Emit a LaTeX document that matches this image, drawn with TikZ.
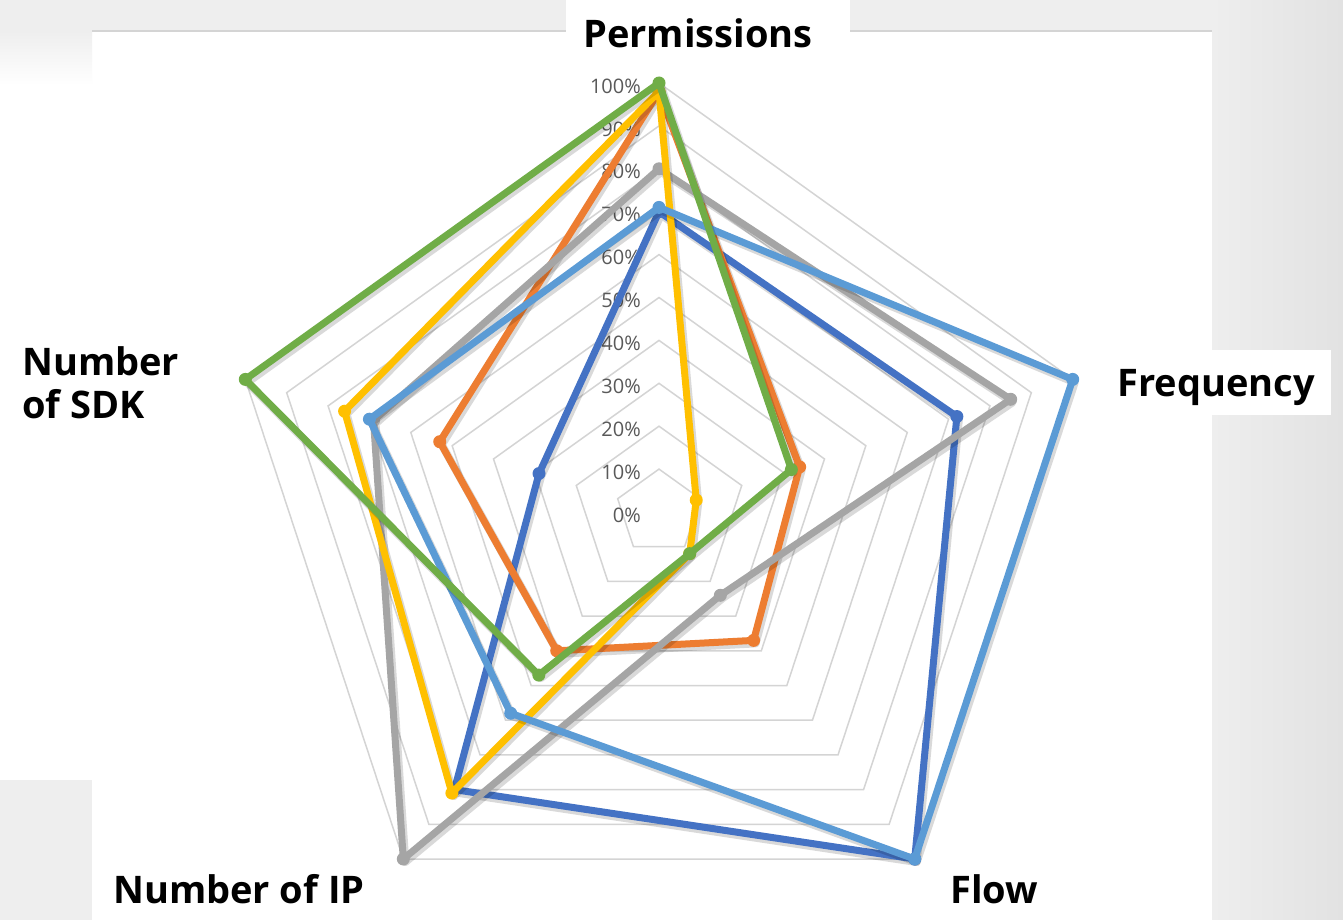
\documentclass[tikz,border=0pt]{standalone}
\usepackage{fontspec}
\setmainfont{Open Sans}
\usetikzlibrary{calc}

\definecolor{sBlue}{HTML}{4472C4}
\definecolor{sOrange}{HTML}{ED7D31}
\definecolor{sGray}{HTML}{A5A5A5}
\definecolor{sYellow}{HTML}{FFC000}
\definecolor{sLight}{HTML}{5B9BD5}
\definecolor{sGreen}{HTML}{70AD47}
\definecolor{bgGray}{HTML}{EEEEEE}
\definecolor{bgDark}{HTML}{E2E2E2}
\definecolor{ringGray}{HTML}{D4D4D4}
\definecolor{pctGray}{HTML}{595959}

\tikzset{
  ring/.style={draw=ringGray, line width=1.5pt, line join=miter},
  frameline/.style={draw=ringGray, line width=2pt},
  pct/.style={font=\fontsize{20}{23}\selectfont, text=pctGray, inner sep=0pt, anchor=east},
  axtitle/.style={font=\fontsize{38}{43}\selectfont\bfseries, text=black, inner sep=0pt},
  serie/.style={line width=7pt, line join=round, line cap=round},
  serieshadow/.style={line width=8pt, line join=round, draw=black, draw opacity=0.15},
}

\begin{document}
\begin{tikzpicture}[x=1pt, y=-1pt]
\useasboundingbox (0,0) rectangle (1343,920);

% page background and white chart area
\fill[bgGray] (0,0) rectangle (1343,920);
\shade[left color=bgGray, right color=bgDark] (1212,0) rectangle (1343,920);
\fill[white] (92,31) rectangle (1212,920);
\fill[white] (0,85) rectangle (92,780);
\shade[top color=bgGray, bottom color=white] (0,31) rectangle (92,85);
\fill[white] (566,0) rectangle (850,31);
\fill[white] (1212,350) rectangle (1331,415);
\draw[frameline] (92,31) -- (566,31);
\draw[frameline] (850,31) -- (1212,31);

% centre and the 100% end of each axis
\coordinate (C) at (659,512);
\coordinate (A1) at (659,83);
\coordinate (A2) at (1072.7,379.4);
\coordinate (A3) at (914.7,859);
\coordinate (A4) at (403.3,859);
\coordinate (A5) at (245.3,379.4);

% grid rings, 10% to 100%
\foreach \i in {1,...,10}{
  \pgfmathsetmacro\f{\i/10}
  \draw[ring] ($(C)!\f!(A1)$) -- ($(C)!\f!(A2)$) -- ($(C)!\f!(A3)$)
    -- ($(C)!\f!(A4)$) -- ($(C)!\f!(A5)$) -- cycle;
}

% scale labels along the top axis
\foreach \i/\t in {0/0,1/10,2/20,3/30,4/40,5/50,6/60,7/70,8/80,9/90,10/100}{
  \pgfmathsetmacro\f{\i/10}
  \node[pct] (pct\i) at ($(C)!\f!(A1)+(-18,3)$) {\t\%};
}

% data series: Permissions, Frequency, Flow, Number of IP, Number of SDK
\foreach \n/\col/\a/\b/\c/\d/\e in {
  1/sBlue/0.70/0.72/1.00/0.80/0.29,
  2/sOrange/0.98/0.34/0.37/0.40/0.53,
  3/sGray/0.80/0.85/0.24/1.00/0.69,
  4/sYellow/0.98/0.09/0.12/0.81/0.76,
  5/sLight/0.71/1.00/1.00/0.58/0.70,
  6/sGreen/1.00/0.32/0.12/0.47/1.00}{
  \coordinate (p\n-1) at ($(C)!\a!(A1)$);
  \coordinate (p\n-2) at ($(C)!\b!(A2)$);
  \coordinate (p\n-3) at ($(C)!\c!(A3)$);
  \coordinate (p\n-4) at ($(C)!\d!(A4)$);
  \coordinate (p\n-5) at ($(C)!\e!(A5)$);
  \draw[serieshadow] ([shift={(2,3)}]p\n-1) -- ([shift={(2,3)}]p\n-2)
    -- ([shift={(2,3)}]p\n-3) -- ([shift={(2,3)}]p\n-4)
    -- ([shift={(2,3)}]p\n-5) -- cycle;
  \draw[serie, draw=\col] (p\n-1) -- (p\n-2) -- (p\n-3) -- (p\n-4) -- (p\n-5) -- cycle;
  \foreach \k in {1,...,5}{ \fill[\col] (p\n-\k) circle (6.5); }
}

% axis titles
\node[axtitle, anchor=base] (tPerm) at (698,48) {Permissions};
\node[axtitle, anchor=base west] (tFreq) at (1117,396) {Frequency};
\node[axtitle, anchor=base west] (tFlow) at (950,903) {Flow};
\node[axtitle, anchor=base west] (tIP) at (113,903) {Number of IP};
\node[axtitle, anchor=base west] (tSdk1) at (22,375) {Number};
\node[axtitle, anchor=base west] (tSdk2) at (22,418) {of SDK};
\end{tikzpicture}
\end{document}
